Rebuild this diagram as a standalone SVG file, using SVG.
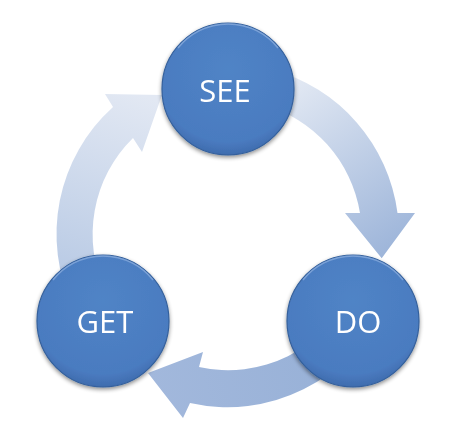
<svg xmlns="http://www.w3.org/2000/svg" width="458" height="448" viewBox="0 0 458 448">
  <defs>
    <linearGradient id="g1" gradientUnits="userSpaceOnUse" x1="285" y1="80" x2="400" y2="250">
      <stop offset="0" stop-color="#e4eaf4"/>
      <stop offset="1" stop-color="#9cb4d9"/>
    </linearGradient>
    <linearGradient id="g2" gradientUnits="userSpaceOnUse" x1="380" y1="330" x2="150" y2="390">
      <stop offset="0" stop-color="#95afd6"/>
      <stop offset="1" stop-color="#a2b8dc"/>
    </linearGradient>
    <linearGradient id="g3" gradientUnits="userSpaceOnUse" x1="75" y1="290" x2="140" y2="95">
      <stop offset="0" stop-color="#b7c9e4"/>
      <stop offset="1" stop-color="#e2e8f3"/>
    </linearGradient>
    <radialGradient id="cf" cx="0.5" cy="0.35" r="0.65">
      <stop offset="0" stop-color="#5084c6"/>
      <stop offset="0.85" stop-color="#4a7bc0"/>
      <stop offset="1" stop-color="#3f6cae"/>
    </radialGradient>
    <filter id="sh" x="-20%" y="-20%" width="140%" height="140%">
      <feGaussianBlur in="SourceAlpha" stdDeviation="2"/>
      <feOffset dx="0" dy="2" result="b"/>
      <feComponentTransfer><feFuncA type="linear" slope="0.45"/></feComponentTransfer>
      <feMerge><feMergeNode/><feMergeNode in="SourceGraphic"/></feMerge>
    </filter>
  </defs>
  <style>
    .node circle.body { fill: url(#cf); stroke: #34609c; stroke-width: 1.2; }
    .node path.hl { fill: none; stroke: #8fb0e0; stroke-width: 1.5; stroke-opacity: 0.7; }
    .node text { font-family: "Open Sans", "Liberation Sans", sans-serif; font-size: 31px; fill: #ffffff; text-anchor: middle; }
  </style>
  <g id="connectors">
    <path id="arrow-see-do" fill="url(#g1)" d="M 272.3,69.8 A 171 171 0 0 1 397.5,213 L 415,213 L 381.7,258.3 L 345,213 L 360,213 A 135 135 0 0 0 262.9,104.6 Z"/>
    <path id="arrow-do-get" fill="url(#g2)" d="M 383,307.3 A 171 171 0 0 1 190,403 L 183,418 L 148,373 L 203,352 L 199,367 A 135 135 0 0 0 350.4,292.1 Z"/>
    <path id="arrow-get-see" fill="url(#g3)" d="M 73,307.3 A 171 171 0 0 1 113,107 L 105,94 L 162,95 L 142,152 L 133,138 A 135 135 0 0 0 105.6,292.1 Z"/>
  </g>
  <g id="node-see" class="node" filter="url(#sh)">
    <circle class="body" cx="228" cy="89" r="66"/>
    <path class="hl" d="M 178,48 A 64 64 0 0 1 278,48"/>
    <text x="225" y="102">SEE</text>
  </g>
  <g id="node-do" class="node" filter="url(#sh)">
    <circle class="body" cx="353" cy="321" r="66"/>
    <path class="hl" d="M 303,280 A 64 64 0 0 1 403,280"/>
    <text x="358" y="333">DO</text>
  </g>
  <g id="node-get" class="node" filter="url(#sh)">
    <circle class="body" cx="103" cy="321" r="66"/>
    <path class="hl" d="M 53,280 A 64 64 0 0 1 153,280"/>
    <text x="105" y="333">GET</text>
  </g>
</svg>
